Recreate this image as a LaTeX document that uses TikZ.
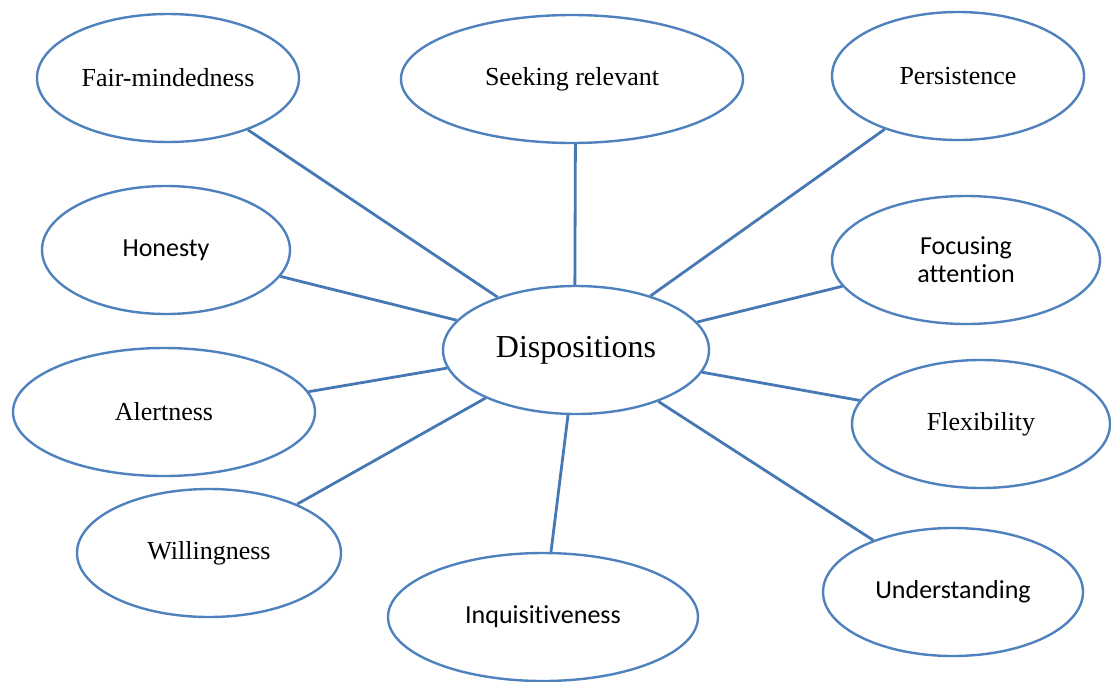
\documentclass[tikz,border=0pt]{standalone}
\usepackage{fontspec}
\setmainfont{Liberation Serif}
\newfontfamily\calibri[Ligatures=NoCommon]{Carlito}
\usetikzlibrary{shapes.geometric}
\definecolor{outline}{HTML}{4F81BD}
\definecolor{spokeblue}{HTML}{4678B4}
\tikzset{bubble/.style={ellipse,draw=outline,line width=2.4pt,inner sep=0pt,
        minimum height=128pt,align=center,font=\fontsize{26}{28}\selectfont},
    sans bubble/.style={bubble,font=\calibri\fontsize{26}{28}\selectfont},
    spoke/.style={draw=spokeblue,line width=2.8pt}}
\begin{document}
\begin{tikzpicture}[x=1pt,y=-1pt]
\useasboundingbox (0,0) rectangle (1111,681);
% centre
\node[bubble,minimum width=266pt,font=\fontsize{32}{34}\selectfont] (disp) at (576,350) {Dispositions};
% left column
\node[bubble,minimum width=262pt] (fair) at (168,78) {Fair-mindedness};
\node[sans bubble,minimum width=248pt] (hon) at (166,250) {Honesty};
\node[bubble,minimum width=302pt] (alert) at (164,412) {Alertness};
\node[bubble,minimum width=264pt] (will) at (209,553) {Willingness};
% middle
\node[bubble,minimum width=342pt] (seek) at (572,79) {Seeking relevant};
\node[sans bubble,minimum width=310pt] (inq) at (543,617) {Inquisitiveness};
% right column
\node[bubble,minimum width=252pt] (pers) at (958,76) {Persistence};
\node[sans bubble,minimum width=268pt] (focus) at (966,260) {Focusing\\attention};
\node[bubble,minimum width=258pt] (flex) at (981,424) {Flexibility};
\node[sans bubble,minimum width=260pt] (under) at (953,592) {Understanding};
% spokes
\foreach \n/\a/\b in {fair/-33.5/146, seek/-87/91, pers/-144/36, focus/192/13,
    flex/169/-10, under/147/-32.5, inq/83/-97, will/29/-152, alert/8/188, hon/-13.6/166}
  \draw[spoke] (\n.\a) -- (disp.\b);
\end{tikzpicture}
\end{document}
